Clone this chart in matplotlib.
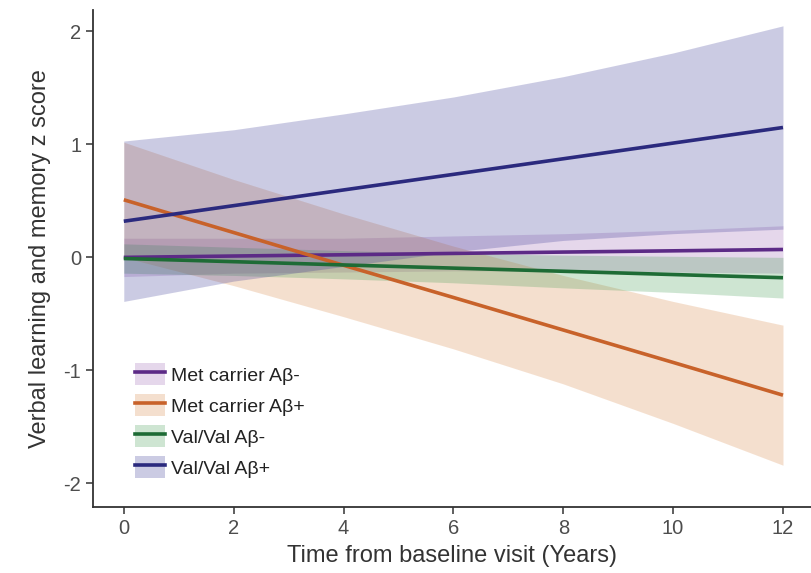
import matplotlib
matplotlib.use('Agg')
import matplotlib.pyplot as plt
from matplotlib.patches import Patch
from matplotlib.lines import Line2D

plt.rcParams['font.family'] = ['Liberation Sans', 'DejaVu Sans']
plt.rcParams['axes.unicode_minus'] = False

years = [0, 2, 4, 6, 8, 10, 12]
labels = ['Met carrier A\u03b2-', 'Met carrier A\u03b2+', 'Val/Val A\u03b2-', 'Val/Val A\u03b2+']

# fitted lines
met_neg = [0.00, 0.012, 0.023, 0.035, 0.047, 0.058, 0.07]
met_pos = [0.51, 0.22, -0.07, -0.355, -0.643, -0.93, -1.22]
val_neg = [-0.01, -0.038, -0.067, -0.095, -0.123, -0.152, -0.18]
val_pos = [0.32, 0.458, 0.597, 0.735, 0.873, 1.012, 1.15]

# confidence bands
met_neg_hi = [0.17, 0.17, 0.17, 0.19, 0.21, 0.24, 0.28]
met_neg_lo = [-0.17, -0.14, -0.13, -0.12, -0.12, -0.13, -0.14]
met_pos_hi = [1.02, 0.69, 0.385, 0.10, -0.16, -0.39, -0.60]
met_pos_lo = [0.00, -0.25, -0.525, -0.81, -1.12, -1.47, -1.84]
val_neg_hi = [0.12, 0.09, 0.06, 0.035, 0.02, 0.01, 0.0]
val_neg_lo = [-0.14, -0.16, -0.19, -0.225, -0.27, -0.31, -0.36]
val_pos_hi = [1.03, 1.13, 1.27, 1.42, 1.60, 1.81, 2.05]
val_pos_lo = [-0.39, -0.21, -0.08, 0.05, 0.15, 0.21, 0.25]

line_colors = ['#5c2a86', '#c8622a', '#1e6b35', '#2b2a7e']
fill_colors = ['#9b63b3', '#d7833f', '#3f9b4f', '#333393']
fill_alpha = 0.25

series = [
    (met_neg, met_neg_lo, met_neg_hi),
    (met_pos, met_pos_lo, met_pos_hi),
    (val_neg, val_neg_lo, val_neg_hi),
    (val_pos, val_pos_lo, val_pos_hi),
]

fig = plt.figure(figsize=(8.11, 5.73), dpi=100)
ax = fig.add_axes([0.1147, 0.1152, 0.8853, 0.8673])

for (fit, lo, hi), fc in zip(series, fill_colors):
    ax.fill_between(years, lo, hi, color=fc, alpha=fill_alpha, linewidth=0)
for (fit, lo, hi), lc in zip(series, line_colors):
    ax.plot(years, fit, color=lc, linewidth=2.6, solid_capstyle='butt')

ax.set_xlim(-0.56, 12.51)
ax.set_ylim(-2.21, 2.19)
ax.set_xticks([0, 2, 4, 6, 8, 10, 12])
ax.set_yticks([-2, -1, 0, 1, 2])

for s in ['top', 'right']:
    ax.spines[s].set_visible(False)
for s in ['left', 'bottom']:
    ax.spines[s].set_color('#333333')
    ax.spines[s].set_linewidth(1.3)
ax.tick_params(colors='#333333', labelcolor='#4d4d4d', labelsize=14.5, length=5, width=1.1)

ax.set_xlabel('Time from baseline visit (Years)', fontsize=17, color='#333333', labelpad=5)
ax.set_ylabel('Verbal learning and memory z score', fontsize=17, color='#333333', labelpad=9)

handles = [(Patch(facecolor=fc, alpha=fill_alpha, edgecolor='none'),
            Line2D([0], [0], color=lc, linewidth=2.6))
           for fc, lc in zip(fill_colors, line_colors)]
ax.legend(handles, labels, loc='lower left', bbox_to_anchor=(0.058, 0.058),
          frameon=False, fontsize=14, handlelength=1.55, handleheight=1.34,
          handletextpad=0.3, labelspacing=0.48, borderaxespad=0, borderpad=0,
          labelcolor='#222222')

fig.savefig('out.png', dpi=100)
